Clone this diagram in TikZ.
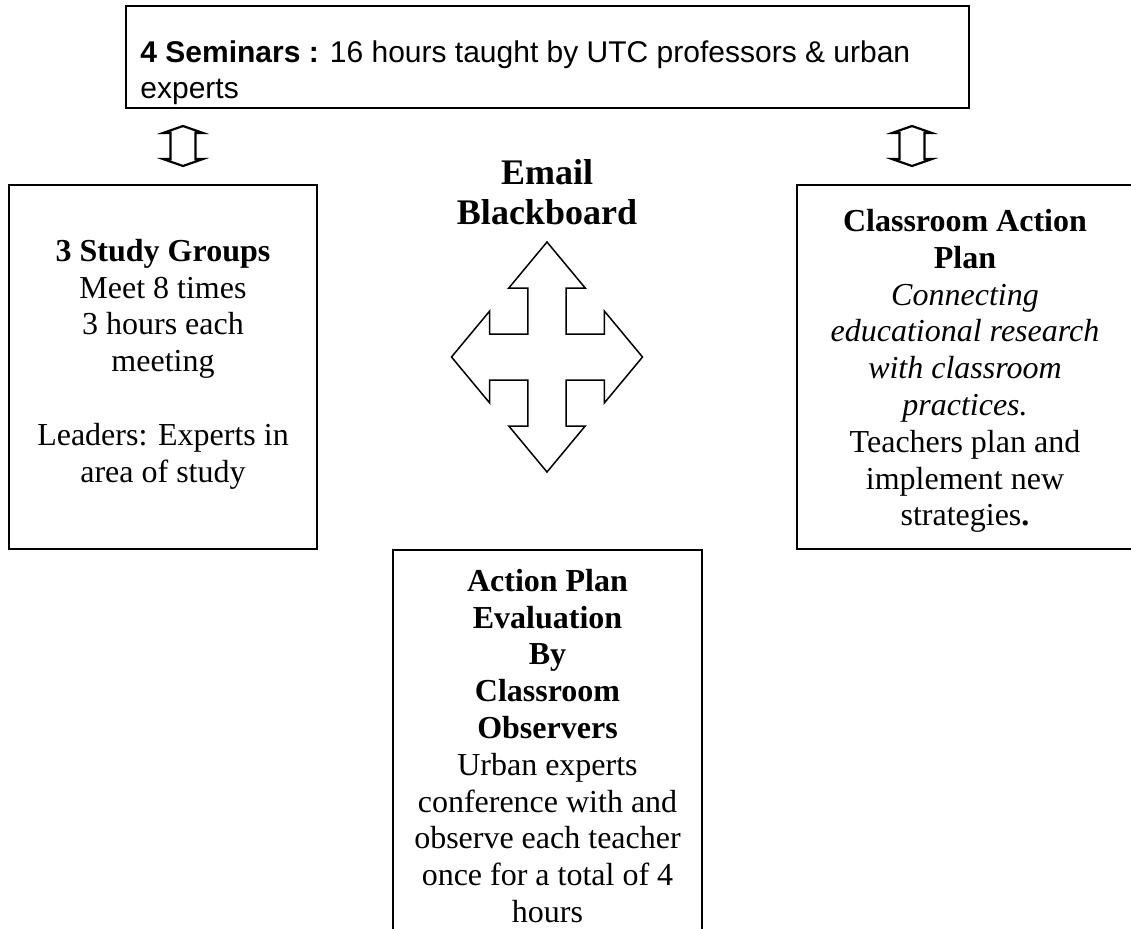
\documentclass[tikz,border=0pt]{standalone}
\usepackage{fontspec}
\setmainfont{Liberation Serif}
\setsansfont{Liberation Sans}
\usetikzlibrary{positioning}

\begin{document}
\begin{tikzpicture}[
  x=0.5pt, y=-0.5pt,
  frame/.style={draw, line width=1pt, inner sep=0pt, anchor=north},
  body/.style={align=center, inner sep=0pt, font=\fontsize{16}{18.4}\selectfont},
  title/.style={align=center, font=\fontsize{18}{20}\selectfont\bfseries},
  updown/.pic={\draw[line width=1.1pt]
      (0,-20) -- (20,-13) -- (12.5,-13) -- (12.5,13) -- (20,13) -- (0,20)
      -- (-20,13) -- (-12.5,13) -- (-12.5,-13) -- (-20,-13) -- cycle;}
]
  \useasboundingbox (0,0) rectangle (1131,928);

  % seminar banner along the top
  \node[frame, anchor=north west, minimum width=421.5pt, minimum height=51pt]
    (seminars) at (125,5) {};
  \node[anchor=west, align=left, inner sep=0pt,
        font=\sffamily\fontsize{15}{18}\selectfont] (semtext) at (140,73)
    {\textbf{4 Seminars :} 16 hours taught by UTC professors \& urban\\experts};

  % frames of the three boxes
  \node[frame, minimum width=154pt, minimum height=182pt] (groups) at (163,184) {};
  \node[frame, minimum width=168pt, minimum height=182pt] (plan) at (965,184) {};
  \node[frame, minimum width=154.5pt, minimum height=198pt] (evaluation) at (547.5,549) {};

  % their texts
  \node[body] (groupstext) at (163,364)
    {\textbf{3 Study Groups}\\Meet 8 times\\3 hours each\\meeting\\[18.4pt]
     Leaders: Experts in\\area of study};
  \node[body] (plantext) at (965,371)
    {\textbf{Classroom Action}\\\textbf{Plan}\\\textit{Connecting}\\
     \textit{educational research}\\\textit{with classroom}\\\textit{practices.}\\
     Teachers plan and\\implement new\\strategies\textbf{.}};
  \node[body] (evaltext) at (547.5,746)
    {\textbf{Action Plan}\\\textbf{Evaluation}\\\textbf{By}\\\textbf{Classroom}\\
     \textbf{Observers}\\Urban experts\\conference with and\\observe each teacher\\
     once for a total of 4\\hours};

  \node[title] (mail) at (547,192) {Email\\Blackboard};

  % four-way arrow in the middle
  \coordinate (hub) at (547,357);
  \draw[line width=0.75pt, shift={(hub)}, xscale=95.5, yscale=115]
    (0,-1) -- (0.4,-0.6) -- (0.2,-0.6) -- (0.2,-0.2) -- (0.6,-0.2) -- (0.6,-0.4)
    -- (1,0) -- (0.6,0.4) -- (0.6,0.2) -- (0.2,0.2) -- (0.2,0.6) -- (0.4,0.6)
    -- (0,1) -- (-0.4,0.6) -- (-0.2,0.6) -- (-0.2,0.2) -- (-0.6,0.2) -- (-0.6,0.4)
    -- (-1,0) -- (-0.6,-0.4) -- (-0.6,-0.2) -- (-0.2,-0.2) -- (-0.2,-0.6)
    -- (-0.4,-0.6) -- cycle;

  % links between banner and side boxes
  \coordinate (linkL) at (183,146);
  \coordinate (linkR) at (912,146);
  \pic at (linkL) {updown};
  \pic at (linkR) {updown};
\end{tikzpicture}
\end{document}
